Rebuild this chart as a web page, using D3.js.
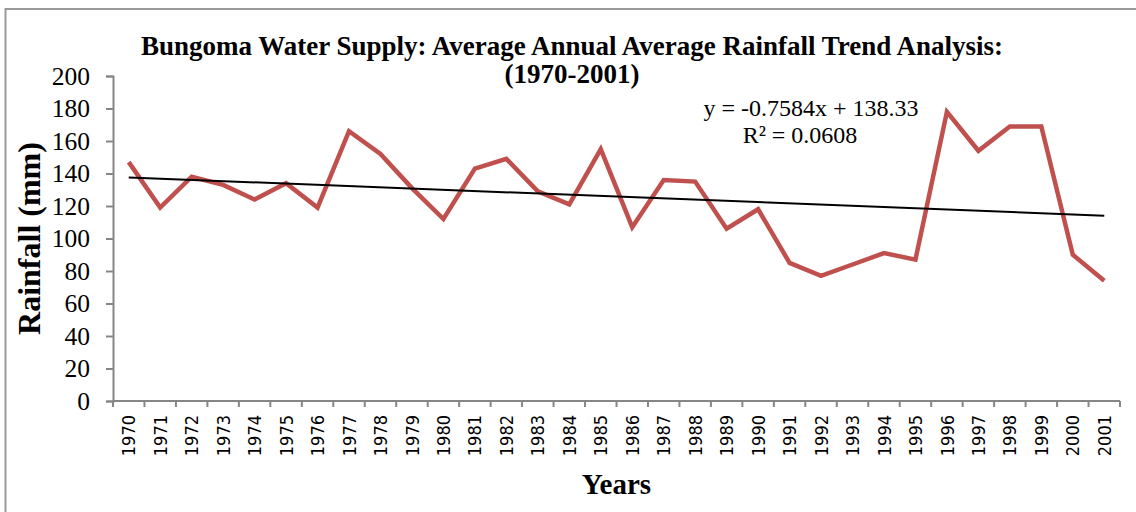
<!DOCTYPE html>
<html>
<head>
<meta charset="utf-8">
<script src="https://cdn.jsdelivr.net/npm/d3@7"></script>
<style>
  body { margin: 0; background: #fff; }
  svg { display: block; }
</style>
</head>
<body>
<script>
// chart data
var years = ["1970","1971","1972","1973","1974","1975","1976","1977","1978","1979",
             "1980","1981","1982","1983","1984","1985","1986","1987","1988","1989",
             "1990","1991","1992","1993","1994","1995","1996","1997","1998","1999",
             "2000","2001"];
var rainfall = [147, 119, 138, 133, 124, 134, 119, 166, 152, 131,
                112, 143, 149, 129, 121, 155, 107, 136, 135, 106,
                118, 85, 77, 84, 91, 87, 178, 154, 169, 169,
                90, 74];
var yTicks = [0, 20, 40, 60, 80, 100, 120, 140, 160, 180, 200];
var trendSlope = -0.7584, trendIntercept = 138.33;
var trendText = ["y = -0.7584x + 138.33", "R\u00b2 = 0.0608"];
var titleLines = ["Bungoma Water Supply: Average Annual Average Rainfall Trend Analysis:", "(1970-2001)"];

var W = 1136, H = 512;
var margin = {top: 76, right: 16, bottom: 111, left: 113},
    width = W - margin.left - margin.right,
    height = H - margin.top - margin.bottom;

var serif = "'Liberation Serif', 'Times New Roman', serif";

var svg = d3.select("body").append("svg")
    .attr("width", W)
    .attr("height", H);

// outer chart border (only top and left edges show in the frame)
svg.append("rect")
    .attr("x", 5.5).attr("y", 9)
    .attr("width", W + 20).attr("height", H + 20)
    .attr("fill", "none")
    .attr("stroke", "#9a9a9a")
    .attr("stroke-width", 2);

var g = svg.append("g")
    .attr("transform", "translate(" + margin.left + "," + margin.top + ")");

var x = d3.scaleBand().domain(years).range([0, width]);
var y = d3.scaleLinear().domain([0, 200]).range([height, 0]);

// y axis
var yAxis = g.append("g")
    .call(d3.axisLeft(y).tickValues(yTicks).tickSize(7).tickPadding(16));
yAxis.selectAll("text")
    .style("font-family", serif)
    .style("font-size", "25.5px")
    .attr("fill", "#000");
yAxis.select(".domain").attr("stroke", "#868686").attr("stroke-width", 2);
yAxis.selectAll(".tick line").attr("stroke", "#868686").attr("stroke-width", 2);

// x axis with ticks on category boundaries
var bounds = years.map(function(d) { return x(d); }).concat([width]);
var xAxisG = g.append("g").attr("transform", "translate(0," + height + ")");
xAxisG.append("line")
    .attr("x1", 0).attr("x2", width)
    .attr("stroke", "#868686").attr("stroke-width", 2);
xAxisG.selectAll(".bt")
    .data(bounds)
  .enter().append("line")
    .attr("class", "bt")
    .attr("x1", function(d) { return d; })
    .attr("x2", function(d) { return d; })
    .attr("y1", 0).attr("y2", 6)
    .attr("stroke", "#868686").attr("stroke-width", 2);
xAxisG.selectAll(".lbl")
    .data(years)
  .enter().append("text")
    .attr("class", "lbl")
    .attr("transform", function(d) {
      return "translate(" + (x(d) + x.bandwidth() / 2 + 6.6) + ",14) rotate(-90)";
    })
    .attr("text-anchor", "end")
    .style("font-family", "'DejaVu Sans Condensed', 'Noto Sans', sans-serif")
    .style("font-size", "18px")
    .text(function(d) { return d; });

// rainfall line
var line = d3.line()
    .x(function(d, i) { return x(years[i]) + x.bandwidth() / 2; })
    .y(function(d) { return y(d); });

g.append("path")
    .datum(rainfall)
    .attr("fill", "none")
    .attr("stroke", "#C0504D")
    .attr("stroke-width", 4.5)
    .attr("stroke-linejoin", "miter")
    .attr("d", line);

// linear trend line
var trend = years.map(function(d, i) { return trendSlope * (i + 1) + trendIntercept; });
g.append("line")
    .attr("x1", x(years[0]) + x.bandwidth() / 2)
    .attr("y1", y(trend[0]))
    .attr("x2", x(years[years.length - 1]) + x.bandwidth() / 2)
    .attr("y2", y(trend[trend.length - 1]))
    .attr("stroke", "#000")
    .attr("stroke-width", 2);

// trend equation
svg.append("text")
    .attr("x", 811).attr("y", 116)
    .attr("text-anchor", "middle")
    .style("font-family", serif)
    .style("font-size", "24px")
    .text(trendText[0]);
svg.append("text")
    .attr("x", 800).attr("y", 143)
    .attr("text-anchor", "middle")
    .style("font-family", serif)
    .style("font-size", "24px")
    .text(trendText[1]);

// title
svg.selectAll(".title")
    .data(titleLines)
  .enter().append("text")
    .attr("class", "title")
    .attr("x", 572)
    .attr("y", function(d, i) { return 55 + i * 28; })
    .attr("text-anchor", "middle")
    .style("font-family", serif)
    .style("font-weight", "bold")
    .style("font-size", "27px")
    .text(function(d) { return d; });

// axis titles
svg.append("text")
    .attr("transform", "translate(40," + (margin.top + height / 2) + ") rotate(-90)")
    .attr("text-anchor", "middle")
    .style("font-family", serif)
    .style("font-weight", "bold")
    .style("font-size", "32px")
    .text("Rainfall (mm)");

svg.append("text")
    .attr("x", margin.left + width / 2)
    .attr("y", 494)
    .attr("text-anchor", "middle")
    .style("font-family", serif)
    .style("font-weight", "bold")
    .style("font-size", "29px")
    .text("Years");
</script>
</body>
</html>
